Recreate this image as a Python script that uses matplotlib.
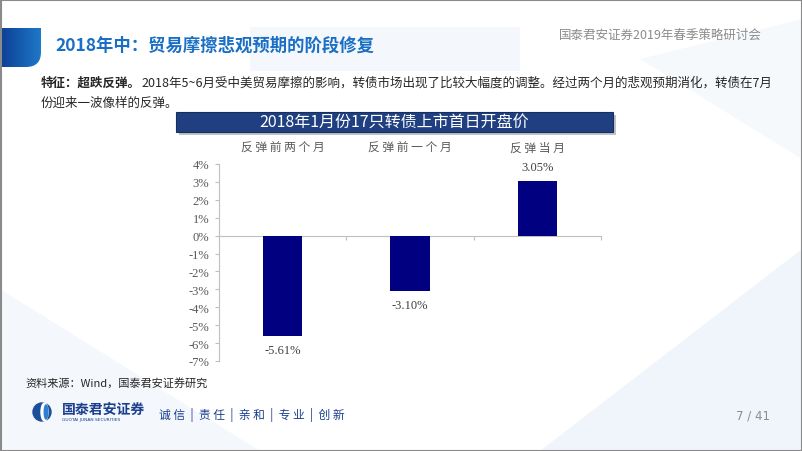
#!/usr/bin/env python3
"""
Slide: 2018年中 贸易摩擦悲观预期的阶段修复 - bar chart of convertible bond returns.
"""

import numpy as np
import matplotlib.pyplot as plt
from matplotlib.colors import LinearSegmentedColormap
from matplotlib.patches import Rectangle, Polygon, Circle, Ellipse, PathPatch
from matplotlib.path import Path

# data
categories = ['反弹前两个月', '反弹前一个月', '反弹当月']
values = [-5.61, -3.10, 3.05]
y_ticks = list(range(-7, 5))
value_labels = ['-5.61%', '-3.10%', '3.05%']

CJK = ['Noto Sans CJK SC', 'DejaVu Sans']
SERIF = ['Liberation Serif', 'DejaVu Serif']
plt.rcParams['font.family'] = CJK

fig = plt.figure(figsize=(8.02, 4.52), dpi=100)

# background layer in pixel coordinates
bg = fig.add_axes([0, 0, 1, 1])
bg.set_xlim(0, 802)
bg.set_ylim(452, 0)
bg.axis('off')

# faint background shapes
bg.add_patch(Polygon([(250, 28), (520, 28), (520, 72), (250, 72)],
                     color='#f4f8fc', lw=0, zorder=0))
bg.add_patch(Polygon([(540, 452), (802, 250), (802, 452)],
                     color='#eff5fb', lw=0, zorder=0))
bg.add_patch(Polygon([(0, 290), (260, 452), (0, 452)],
                     color='#f4f7fb', lw=0, zorder=0))
bg.add_patch(Polygon([(640, 60), (802, 20), (802, 160)],
                     color='#f6f9fc', lw=0, zorder=0))

# slide border
bg.add_patch(Rectangle((0.5, 0.5), 801, 451, fill=False,
                       ec='#8a8a8a', lw=1.5, zorder=10))

# blue title tab with rounded bottom-right corner
r = 15
verts = [(0, 29), (41, 29), (41, 68 - r), (41, 68), (41 - r, 68), (0, 68), (0, 29)]
codes = [Path.MOVETO, Path.LINETO, Path.LINETO, Path.CURVE3, Path.CURVE3,
         Path.LINETO, Path.CLOSEPOLY]
tab = PathPatch(Path(verts, codes), fc='none', ec='none')
bg.add_patch(tab)
grad = np.linspace(0, 1, 100).reshape(1, -1)
tab_cmap = LinearSegmentedColormap.from_list('tab', ['#0b3f94', '#1f78c8'])
im = bg.imshow(grad, extent=(0, 41, 68, 29), cmap=tab_cmap,
               aspect='auto', zorder=2)
im.set_clip_path(tab)
bg.set_xlim(0, 802)
bg.set_ylim(452, 0)

bg.text(55, 46, '2018年中：贸易摩擦悲观预期的阶段修复', fontsize=12.5,
        fontweight='bold', color='#1a6fc4', va='center', ha='left')
bg.text(762, 35, '国泰君安证券2019年春季策略研讨会', fontsize=9,
        color='#8c8c8c', va='center', ha='right')

# body text
t1 = bg.text(41, 83, '特征：超跌反弹。', fontsize=9, fontweight='bold',
             color='#262626', va='center', ha='left')
bg.annotate('2018年5~6月受中美贸易摩擦的影响，转债市场出现了比较大幅度的调整。'
            '经过两个月的悲观预期消化，转债在7月',
            xy=(1, 0.5), xycoords=t1, fontsize=9, color='#262626',
            va='center', ha='left')
bg.text(41, 103, '份迎来一波像样的反弹。', fontsize=9, color='#262626',
        va='center', ha='left')

# chart title banner
bg.add_patch(Rectangle((179, 116), 437, 20, color='#9a9a9a', alpha=0.6,
                       lw=0, zorder=3))
bg.add_patch(Rectangle((176, 113), 437, 20, fc='#1f3f80', ec='#162f63',
                       lw=0.8, zorder=4))
bg.text(394.5, 123, '2018年1月份17只转债上市首日开盘价', fontsize=11.5,
        color='white', va='center', ha='center', zorder=5)

# source
bg.text(25, 383, '资料来源：Wind，国泰君安证券研究', fontsize=8,
        color='#262626', va='center', ha='left')

# footer logo
bg.add_patch(Circle((42, 413), 9, color='#1b4f9c', zorder=3))
bg.add_patch(Ellipse((44.5, 413), 7, 18, color='white', zorder=4))
bg.add_patch(Ellipse((46, 413), 3.5, 14, color='#2f7fd0', zorder=5))
bg.text(62, 410, '国泰君安证券', fontsize=10, fontweight='bold',
        color='#1b3f8f', va='center', ha='left')
bg.text(62, 420, 'GUOTAI JUNAN SECURITIES', fontsize=3.2,
        color='#1b3f8f', va='center', ha='left', family=['DejaVu Sans'])
bg.text(159, 415, '诚 信  |  责 任  |  亲 和  |  专 业  |  创 新',
        fontsize=8.5, color='#1b3f8f', va='center', ha='left')
bg.text(770, 416, '7 / 41', fontsize=8.5, color='#8c8c8c',
        va='center', ha='right', family=['DejaVu Sans'])

# chart axes
ax = fig.add_axes([219 / 802, (452 - 362) / 452, 382 / 802, 197 / 452])
ax.patch.set_alpha(0)
x = np.arange(len(categories))
ax.bar(x, values, width=0.31, color='#000080', zorder=3)

ax.set_xlim(-0.5, 2.5)
ax.set_ylim(-7, 4)
ax.set_yticks(y_ticks)
ax.set_yticklabels(['{}%'.format(v) for v in y_ticks], family=SERIF,
                   fontsize=9, color='#595959')
ax.tick_params(axis='y', length=3, color='#bfbfbf', pad=4)

ax.spines['top'].set_visible(False)
ax.spines['right'].set_visible(False)
ax.spines['left'].set_color('#bfbfbf')
ax.spines['bottom'].set_color('#bfbfbf')
ax.spines['bottom'].set_position(('data', 0))
ax.set_xticks([0.5, 1.5, 2.5])
ax.set_xticklabels([])
ax.tick_params(axis='x', length=3, color='#bfbfbf')

for i, cat in enumerate(categories):
    ax.text(i, 4.92, ' '.join(cat), fontsize=8.5, color='#595959',
            ha='center', va='center', clip_on=False)

for i, (v, lab) in enumerate(zip(values, value_labels)):
    off = 10 if v > 0 else -10
    ax.annotate(lab, xy=(i, v), xytext=(0, off), textcoords='offset points',
                ha='center', va='center', family=SERIF, fontsize=9,
                color='#404040')

fig.savefig('out.png', dpi=100)
